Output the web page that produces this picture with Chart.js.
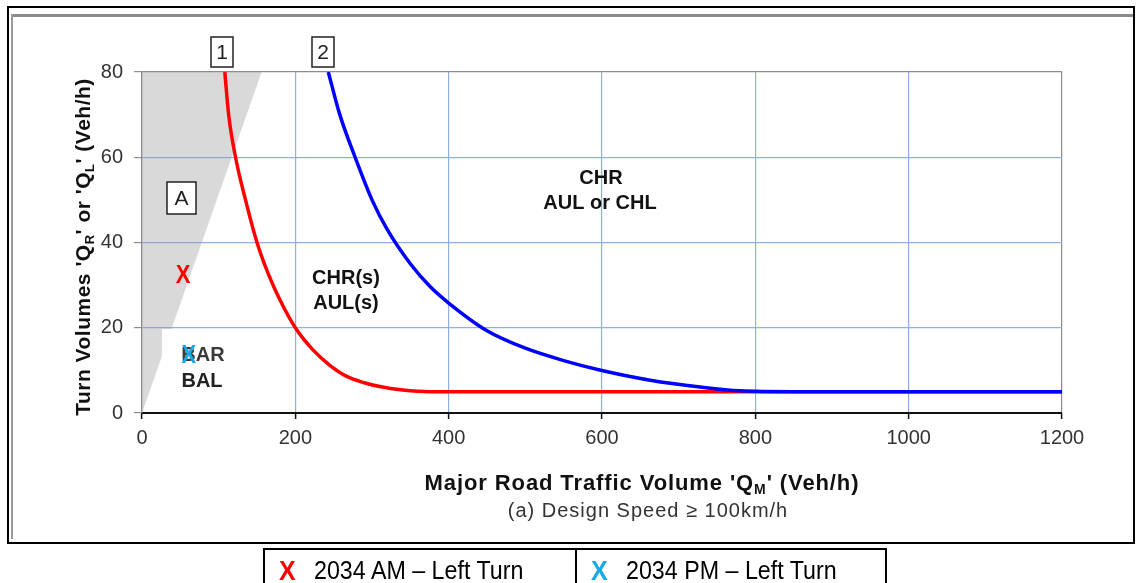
<!DOCTYPE html>
<html>
<head>
<meta charset="utf-8">
<script src="https://cdn.jsdelivr.net/npm/chart.js@4.4.1/dist/chart.umd.min.js"></script>
<style>
  html, body { margin: 0; padding: 0; background: #fff; }
  #wrap { position: relative; width: 1136px; height: 583px; overflow: hidden; }
  #chart { position: absolute; left: 0; top: 0; }
  .frame { position: absolute; left: 7px; top: 6px; width: 1124px; height: 534px; border: 2px solid #000; }
  .frameTop { position: absolute; left: 11px; top: 14px; width: 1122px; height: 3px; background: #8a8a8a; }
  .frameLeft { position: absolute; left: 11px; top: 14px; width: 2px; height: 525px; background: #9a9a9a; }
  .legend { position: absolute; left: 263px; top: 548px; width: 620px; height: 40px; border: 2px solid #000; display: flex; }
  .cell { height: 100%; display: flex; align-items: center; font-family: "Liberation Sans", Arial, sans-serif; font-size: 25px; color: #000; white-space: nowrap; }
  .cell b { font-weight: bold; margin-left: 14px; margin-right: 18px; display: inline-block; transform: scaleY(1.1); }
  .cell span { display: inline-block; transform: scale(0.93, 1.05); transform-origin: left center; }
  .c1 { width: 310px; border-right: 2px solid #000; }
  .c2 { flex: 1; }
</style>
</head>
<body>
<div id="wrap">
  <canvas id="chart" width="1136" height="583"></canvas>
  <div class="frame"></div>
  <div class="frameTop"></div>
  <div class="frameLeft"></div>
  <div class="legend">
    <div class="cell c1"><b style="color:#ff0000">X</b><span>2034 AM – Left Turn</span></div>
    <div class="cell c2"><b style="color:#1aa8e6">X</b><span>2034 PM – Left Turn</span></div>
  </div>
</div>
<script>
// ---------- Dados ----------
const xTicks = [0, 200, 400, 600, 800, 1000, 1200];
const yTicks = [0, 20, 40, 60, 80];

// curve 1 (red)
const curve1X = [108, 113, 122, 135, 150, 165, 180, 200, 223, 245, 267, 290, 310, 340, 375, 400, 600, 800, 1000, 1200];
const curve1Y = [80, 70, 60, 50, 40, 32.5, 26.5, 20, 14.8, 11.2, 8.6, 7.1, 6.2, 5.4, 5, 5, 5, 5, 5, 5];

// curve 2 (blue)
const curve2X = [243, 258, 278, 300, 320, 350, 376, 400, 450, 500, 550, 597, 663, 728, 780, 850, 1000, 1200];
const curve2Y = [80, 70, 60, 50, 43, 35, 29.6, 25.8, 19.3, 15.2, 12.3, 10.1, 7.7, 6.1, 5.2, 5, 5, 5];

// area A boundary (grey)
const areaAX = [0, 156];
const areaAY = [0, 80];

// traffic points
const amX = [53.5], amY = [32.4];
const pmX = [61], pmY = [13.6];

const toPts = (xs, ys) => xs.map((x, i) => ({ x: x, y: ys[i] }));

const FONT = '"Liberation Sans", Arial, sans-serif';

// ---------- Helpers ----------
function drawSubText(ctx, parts, cx, cy, size, weight, spacing) {
  // parts alternam: texto normal, subscrito, normal...
  ctx.letterSpacing = spacing + 'px';
  let w = 0;
  parts.forEach((p, i) => {
    ctx.font = weight + ' ' + (i % 2 ? Math.round(size * 0.62) : size) + 'px ' + FONT;
    w += ctx.measureText(p).width;
  });
  let x = cx - w / 2;
  ctx.textBaseline = 'middle';
  ctx.textAlign = 'left';
  parts.forEach((p, i) => {
    const sub = i % 2 === 1;
    ctx.font = weight + ' ' + (sub ? Math.round(size * 0.62) : size) + 'px ' + FONT;
    ctx.fillText(p, x, sub ? cy + size * 0.3 : cy);
    x += ctx.measureText(p).width;
  });
  ctx.letterSpacing = '0px';
}

function boxLabel(ctx, txt, x, y, w, h) {
  ctx.fillStyle = '#fff';
  ctx.fillRect(x, y, w, h);
  ctx.strokeStyle = '#222';
  ctx.lineWidth = 1.5;
  ctx.strokeRect(x, y, w, h);
  ctx.fillStyle = '#222';
  ctx.font = '21px ' + FONT;
  ctx.textAlign = 'center';
  ctx.textBaseline = 'middle';
  ctx.fillText(txt, x + w / 2, y + h / 2 + 1);
}

// ---------- Plugin de anotações ----------
const annotations = {
  id: 'annotations',
  afterDatasetsDraw(chart) {
    const ctx = chart.ctx;
    const xs = chart.scales.x, ys = chart.scales.y;
    ctx.save();

    // caixa branca atrás de BAR / BAL
    const bx = xs.getPixelForValue(26), by = ys.getPixelForValue(19.7);
    ctx.fillStyle = '#fff';
    ctx.fillRect(bx, by, xs.getPixelForValue(48) - bx, ys.getPixelForValue(0.4) - by);

    // rótulos das regiões
    ctx.textAlign = 'center';
    ctx.textBaseline = 'middle';
    ctx.fillStyle = '#111';
    ctx.font = 'bold 20px ' + FONT;
    ctx.fillText('CHR(s)', 346, 278);
    ctx.fillText('AUL(s)', 346, 303);
    ctx.fillText('CHR', 601, 178);
    ctx.fillText('AUL or CHL', 600, 203);
    ctx.fillStyle = '#3a3a3a';
    ctx.fillText('BAR', 203, 355);
    ctx.fillStyle = '#222';
    ctx.fillText('BAL', 202, 381);

    boxLabel(ctx, 'A', 167, 182, 29, 32);
    boxLabel(ctx, '1', 211, 37, 22, 30);
    boxLabel(ctx, '2', 312, 37, 22, 30);

    // marcadores X
    ctx.font = 'bold 22px ' + FONT;
    ctx.textAlign = 'center';
    ctx.textBaseline = 'middle';
    [['am', '#ff0000'], ['pm', '#1aa8e6']].forEach(([key, col]) => {
      const idx = chart.data.datasets.findIndex(d => d.key === key);
      chart.getDatasetMeta(idx).data.forEach(pt => {
        ctx.save();
        ctx.translate(pt.x, pt.y + 1);
        ctx.scale(1, 1.2);
        ctx.fillStyle = col;
        ctx.fillText('X', 0, 0);
        ctx.restore();
      });
    });

    // títulos dos eixos
    ctx.fillStyle = '#111';
    drawSubText(ctx, ["Major Road Traffic Volume 'Q", 'M', "' (Veh/h)"], 642, 484, 22, 'bold', 0.9);
    ctx.fillStyle = '#333';
    ctx.font = '20px ' + FONT;
    ctx.letterSpacing = '1px';
    ctx.textAlign = 'center';
    ctx.fillText('(a) Design Speed \u2265 100km/h', 648, 511);
    ctx.letterSpacing = '0px';

    ctx.translate(84, 247);
    ctx.rotate(-Math.PI / 2);
    ctx.fillStyle = '#111';
    drawSubText(ctx, ["Turn Volumes 'Q", 'R', "' or 'Q", 'L', "' (Veh/h)"], 0, 0, 21, 'bold', 0.5);
    ctx.restore();
  }
};

// ---------- Gráfico ----------
const blueGrid = '#8fb0e6';
const greyLine = '#8c8c8c';

new Chart(document.getElementById('chart').getContext('2d'), {
  type: 'scatter',
  data: {
    datasets: [
      { key: 'area', data: toPts(areaAX, areaAY), showLine: true, borderWidth: 0, pointRadius: 0,
        backgroundColor: 'rgba(150,150,150,0.36)', borderColor: 'rgba(0,0,0,0)', fill: 'end', order: 3 },
      { key: 'c1', data: toPts(curve1X, curve1Y), showLine: true, borderColor: '#ff0000', borderWidth: 3.5,
        pointRadius: 0, cubicInterpolationMode: 'monotone', fill: false, order: 2 },
      { key: 'c2', data: toPts(curve2X, curve2Y), showLine: true, borderColor: '#0000ff', borderWidth: 3.5,
        pointRadius: 0, cubicInterpolationMode: 'monotone', fill: false, order: 1 },
      { key: 'am', data: toPts(amX, amY), pointRadius: 0, showLine: false },
      { key: 'pm', data: toPts(pmX, pmY), pointRadius: 0, showLine: false }
    ]
  },
  options: {
    responsive: false,
    animation: false,
    events: [],
    layout: { padding: { left: 0, top: 72, right: 74, bottom: 0 } },
    plugins: { legend: { display: false }, tooltip: { enabled: false } },
    scales: {
      x: {
        type: 'linear', min: 0, max: 1200,
        afterBuildTicks: s => { s.ticks = xTicks.map(v => ({ value: v })); },
        afterFit: s => { s.height = 170; },
        ticks: { color: '#333', padding: 7, font: { family: FONT, size: 20 }, callback: v => String(v) },
        border: { color: '#111', width: 2 },
        grid: {
          color: c => (c.tick && (c.tick.value === 0 || c.tick.value === 1200)) ? greyLine : blueGrid,
          lineWidth: 1.2, tickLength: 6, tickColor: '#111', tickWidth: 1.5
        }
      },
      y: {
        type: 'linear', min: 0, max: 80,
        afterBuildTicks: s => { s.ticks = yTicks.map(v => ({ value: v })); },
        afterFit: s => { s.width = 142; },
        ticks: { color: '#333', padding: 11, font: { family: FONT, size: 20 } },
        border: { color: greyLine, width: 1.2 },
        grid: {
          color: c => (c.tick && c.tick.value === 80) ? greyLine : (c.tick && c.tick.value === 0 ? '#111' : blueGrid),
          lineWidth: 1.2, tickLength: 8, tickColor: greyLine
        }
      }
    }
  },
  plugins: [annotations]
});
</script>
</body>
</html>
